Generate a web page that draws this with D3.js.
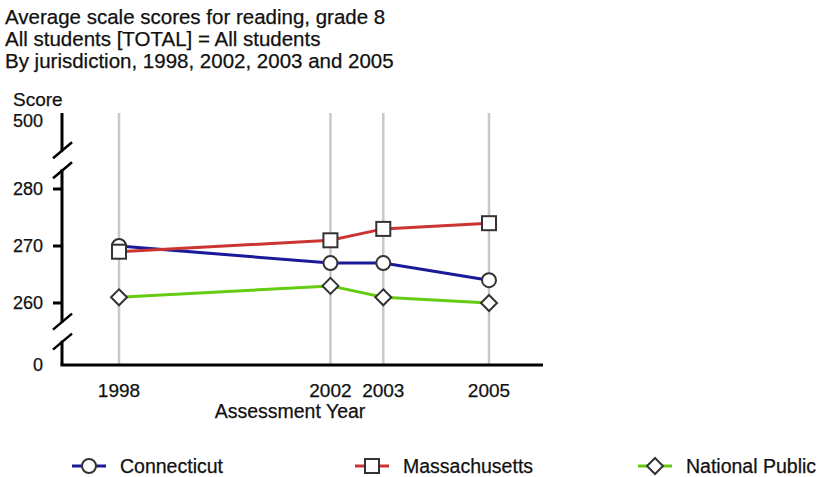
<!DOCTYPE html>
<html>
<head>
<meta charset="utf-8">
<script src="https://cdn.jsdelivr.net/npm/d3@7"></script>
<style>
  body { margin: 0; background: #fff; }
  text { font-family: "Liberation Sans", Arial, sans-serif; fill: #111; stroke: #111; stroke-width: 0.25px; }
</style>
</head>
<body>
<svg id="chart" width="821" height="477"></svg>
<script>
// chart data
var years = [1998, 2002, 2003, 2005];
var connecticut = [270, 267, 267, 264];
var massachusetts = [269, 271, 273, 274];
var nationalPublic = [261, 263, 261, 260];
var seriesNames = ["Connecticut", "Massachusetts", "National Public"];
var yTicks = [260, 270, 280];
var titleLines = [
    "Average scale scores for reading, grade 8",
    "All students [TOTAL] = All students",
    "By jurisdiction, 1998, 2002, 2003 and 2005"
];

var colors = ["#1a1a99", "#cc3333", "#66cc11"];
var shapes = ["circle", "square", "diamond"];

var svg = d3.select("svg#chart");

// year scale, linear so the 2002/2003 pair sits close
var x = d3.scaleLinear().domain([1998, 2005]).range([119, 489]);
// broken score axis: 0 ... 255 | 260-280 | 285 ... 500
var y = d3.scaleLinear()
    .domain([0, 255, 285, 500])
    .range([365, 331.5, 160.5, 121]);

var axisLeft = 62, axisRight = 543, axisTop = 113, axisBottom = 365;

// title
svg.selectAll(".title")
    .data(titleLines)
    .enter()
    .append("text")
    .attr("class", "title")
    .attr("x", 5)
    .attr("y", (d, i) => 24 + i * 22)
    .style("font-size", "20.5px")
    .text(d => d);

svg.append("text")
    .attr("x", 13)
    .attr("y", 106)
    .style("font-size", "19px")
    .text("Score");

// vertical year gridlines
svg.selectAll(".grid")
    .data(years)
    .enter()
    .append("line")
    .attr("class", "grid")
    .attr("x1", d => x(d))
    .attr("x2", d => x(d))
    .attr("y1", axisTop)
    .attr("y2", axisBottom)
    .style("stroke", "#c8c8c8")
    .style("stroke-width", 2.5);

// y axis in three pieces with break marks
var axisG = svg.append("g")
    .style("stroke", "#000")
    .style("stroke-width", 3)
    .style("fill", "none");

var breakTop = y(286.5), breakBottom = y(254);
var segs = [
    [axisTop, breakTop - 9],
    [breakTop + 9, breakBottom - 9],
    [breakBottom + 9, axisBottom]
];
axisG.selectAll(".seg")
    .data(segs)
    .enter()
    .append("line")
    .attr("x1", axisLeft)
    .attr("x2", axisLeft)
    .attr("y1", d => d[0])
    .attr("y2", d => d[1]);

[breakTop, breakBottom].forEach(function(b) {
    [-10, 10].forEach(function(off) {
        axisG.append("line")
            .attr("x1", axisLeft - 9)
            .attr("y1", b + off + 8)
            .attr("x2", axisLeft + 10)
            .attr("y2", b + off - 8)
            .style("stroke-width", 2.5);
    });
});

// y ticks
axisG.selectAll(".tick")
    .data(yTicks)
    .enter()
    .append("line")
    .attr("x1", axisLeft - 9)
    .attr("x2", axisLeft)
    .attr("y1", d => y(d))
    .attr("y2", d => y(d));

svg.selectAll(".ylab")
    .data(yTicks.concat([0, 500]))
    .enter()
    .append("text")
    .attr("class", "ylab")
    .attr("x", 43)
    .attr("y", d => y(d))
    .attr("dy", "0.36em")
    .attr("text-anchor", "end")
    .style("font-size", "18px")
    .text(d => d);

// x axis
svg.append("line")
    .attr("x1", axisLeft - 1.5)
    .attr("x2", axisRight)
    .attr("y1", axisBottom)
    .attr("y2", axisBottom)
    .style("stroke", "#000")
    .style("stroke-width", 3);

svg.selectAll(".xlab")
    .data(years)
    .enter()
    .append("text")
    .attr("x", d => x(d))
    .attr("y", 397)
    .attr("text-anchor", "middle")
    .style("font-size", "19px")
    .text(d => d);

svg.append("text")
    .attr("x", 290)
    .attr("y", 418)
    .attr("text-anchor", "middle")
    .style("font-size", "19.5px")
    .text("Assessment Year");

// marker drawing
function drawMarker(g, shape, cx, cy) {
    var m;
    if (shape == "circle") {
        m = g.append("circle").attr("cx", cx).attr("cy", cy).attr("r", 7);
    } else if (shape == "square") {
        m = g.append("rect").attr("x", cx - 7).attr("y", cy - 7)
            .attr("width", 14).attr("height", 14);
    } else {
        m = g.append("path")
            .attr("d", "M" + cx + "," + (cy - 8) + "L" + (cx + 8) + "," + cy +
                "L" + cx + "," + (cy + 8) + "L" + (cx - 8) + "," + cy + "Z");
    }
    m.style("fill", "#fff").style("stroke", "#333").style("stroke-width", 2);
}

var allSeries = [connecticut, massachusetts, nationalPublic];
var line = d3.line()
    .x((d, i) => x(years[i]))
    .y(d => y(d));

allSeries.forEach(function(vals, s) {
    svg.append("path")
        .datum(vals)
        .attr("d", line)
        .style("fill", "none")
        .style("stroke", colors[s])
        .style("stroke-width", 3);
});

// markers on top, national first so CT/MA overlap like the original
[2, 0, 1].forEach(function(s) {
    var g = svg.append("g");
    allSeries[s].forEach(function(v, i) {
        drawMarker(g, shapes[s], x(years[i]), y(v));
    });
});

// legend
var legendX = [72, 355, 638];
seriesNames.forEach(function(name, s) {
    var g = svg.append("g");
    var lx = legendX[s], ly = 466;
    g.append("line")
        .attr("x1", lx).attr("x2", lx + 34)
        .attr("y1", ly).attr("y2", ly)
        .style("stroke", colors[s])
        .style("stroke-width", 3);
    drawMarker(g, shapes[s], lx + 17, ly);
    g.append("text")
        .attr("x", lx + 48)
        .attr("y", ly + 7)
        .style("font-size", "19.5px")
        .text(name);
});
</script>
</body>
</html>
